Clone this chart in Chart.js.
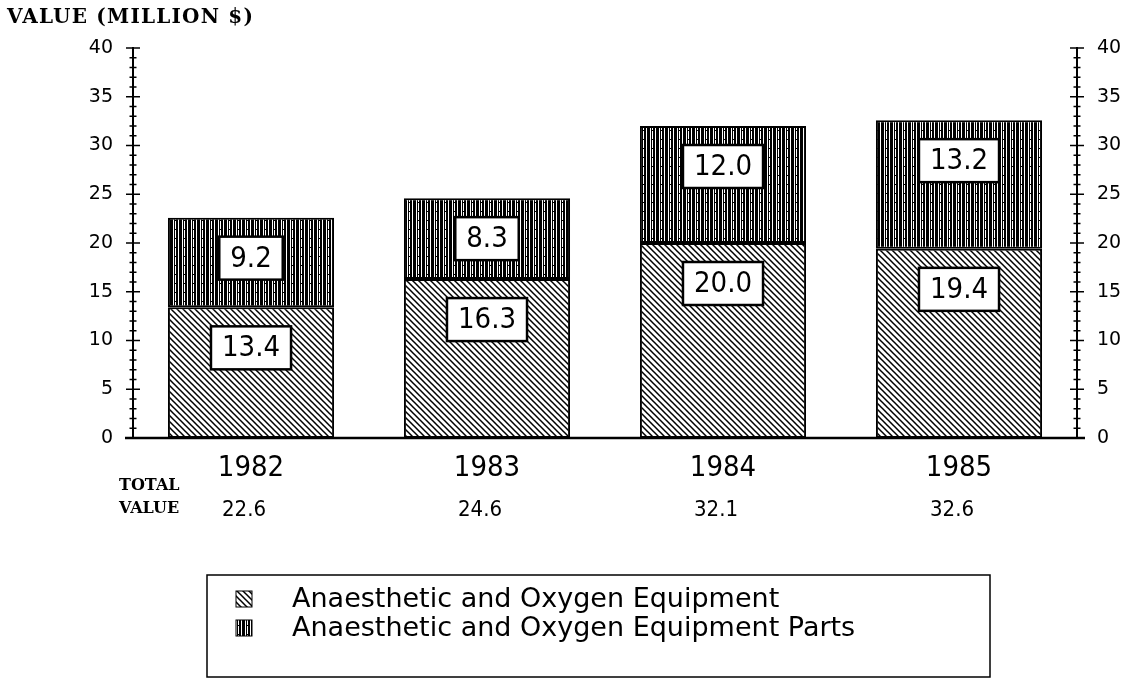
<!DOCTYPE html>
<html>
<head>
<meta charset="utf-8">
<script src="https://cdn.jsdelivr.net/npm/chart.js@4.4.1/dist/chart.umd.min.js"></script>
<style>
  html, body { margin: 0; padding: 0; background: #fff; }
  #wrap { width: 1126px; height: 681px; }
</style>
</head>
<body>
<div id="wrap"><canvas id="chart" width="1126" height="681"></canvas></div>
<script>
// data
const years = ['1982', '1983', '1984', '1985'];
const equipment = [13.4, 16.3, 20.0, 19.4];
const equipmentParts = [9.2, 8.3, 12.0, 13.2];
const totalValues = ['22.6', '24.6', '32.1', '32.6'];
const seriesNames = ['Anaesthetic and Oxygen Equipment', 'Anaesthetic and Oxygen Equipment Parts'];
const axisTitle = 'VALUE (MILLION $)';
const totalLabel = ['TOTAL', 'VALUE'];

const plotFont = "'Liberation Sans Narrow', 'DejaVu Sans Condensed', 'DejaVu Sans', sans-serif";
const typeFont = "'DejaVu Serif', 'Liberation Serif', serif";

function hatchPattern() {
    const c = document.createElement('canvas');
    c.width = 6; c.height = 6;
    const g = c.getContext('2d');
    g.fillStyle = '#fff';
    g.fillRect(0, 0, 6, 6);
    g.strokeStyle = '#000';
    g.lineWidth = 1.5;
    g.beginPath();
    g.moveTo(-1, -1); g.lineTo(7, 7);
    g.moveTo(-1, 5); g.lineTo(1, 7);
    g.moveTo(5, -1); g.lineTo(7, 1);
    g.stroke();
    return g.createPattern(c, 'repeat');
}

function stripePattern() {
    const c = document.createElement('canvas');
    c.width = 9; c.height = 9;
    const g = c.getContext('2d');
    g.fillStyle = '#fff';
    g.fillRect(0, 0, 9, 9);
    g.fillStyle = '#000';
    g.fillRect(0, 0, 2, 9);
    g.fillRect(3, 0, 1, 9);
    g.fillRect(5, 0, 2, 9);
    g.fillRect(8, 0, 1, 9);
    g.fillRect(4, 4, 1, 1);
    return g.createPattern(c, 'repeat');
}

const ctx = document.getElementById('chart').getContext('2d');
const hatch = hatchPattern();
const stripes = stripePattern();

function fitText(c, text, x, y, width) {
    const n = text.length - 1;
    const extra = (width - c.measureText(text).width) / n;
    c.letterSpacing = Math.max(0, extra).toFixed(2) + 'px';
    c.fillText(text, x, y);
    c.letterSpacing = '0px';
}

const decorations = {
    id: 'decorations',
    afterDatasetsDraw(chart) {
        const c = chart.ctx;
        c.save();
        c.font = '29px ' + plotFont;
        c.textAlign = 'center';
        c.textBaseline = 'middle';
        chart.data.datasets.forEach((ds, di) => {
            chart.getDatasetMeta(di).data.forEach((bar, i) => {
                const text = ds.data[i].toFixed(1);
                const w = c.measureText(text).width + 22;
                const h = 43;
                const top = bar.y + 19;
                c.fillStyle = '#fff';
                c.fillRect(bar.x - w / 2, top, w, h);
                c.lineWidth = 2.5;
                c.strokeStyle = '#000';
                c.strokeRect(bar.x - w / 2, top, w, h);
                c.fillStyle = '#000';
                c.fillText(text, bar.x, top + h / 2 + 1);
            });
        });
        c.restore();
    },
    afterDraw(chart) {
        const c = chart.ctx;
        const area = chart.chartArea;
        const x = chart.scales.x;
        c.save();
        c.strokeStyle = '#000';
        c.fillStyle = '#000';

        // minor and major ticks crossing both value axes
        ['y', 'y2'].forEach(id => {
            const s = chart.scales[id];
            const ax = id === 'y' ? area.left : area.right;
            c.lineWidth = 1.5;
            for (let v = s.min; v <= s.max; v++) {
                const py = s.getPixelForValue(v);
                const half = v % 5 === 0 ? 7 : 3.5;
                c.beginPath();
                c.moveTo(ax - half, py);
                c.lineTo(ax + half, py);
                c.stroke();
            }
        });

        // base line
        const y0 = chart.scales.y.getPixelForValue(0);
        c.lineWidth = 2.5;
        c.beginPath();
        c.moveTo(area.left - 8, y0);
        c.lineTo(area.right + 8, y0);
        c.stroke();

        // axis title
        c.font = 'bold 20px ' + typeFont;
        c.textAlign = 'left';
        c.textBaseline = 'middle';
        fitText(c, axisTitle, 7, 18, 246);

        // total row
        c.font = 'bold 16px ' + typeFont;
        fitText(c, totalLabel[0], 119, 486, 58);
        fitText(c, totalLabel[1], 119, 509, 58);
        c.font = '22px ' + plotFont;
        c.textAlign = 'center';
        totalValues.forEach((t, i) => {
            c.fillText(t, x.getPixelForValue(i) - 7, 510);
        });

        // legend box
        c.lineWidth = 1.5;
        c.strokeRect(207, 575, 783, 102);
        const swatches = [hatch, stripes];
        c.font = "27px 'DejaVu Sans', sans-serif";
        c.textAlign = 'left';
        seriesNames.forEach((name, i) => {
            const sy = 591 + i * 29;
            c.fillStyle = swatches[i];
            c.fillRect(236, sy, 16, 16);
            c.lineWidth = 1;
            c.strokeRect(236, sy, 16, 16);
            c.fillStyle = '#000';
            c.fillText(name, 292, sy + 9);
        });
        c.restore();
    }
};

const config = {
    type: 'bar',
    data: {
        labels: years,
        datasets: [
            {
                label: seriesNames[0],
                data: equipment,
                backgroundColor: hatch,
                borderColor: '#000',
                borderWidth: 2,
                borderSkipped: false,
                yAxisID: 'y'
            },
            {
                label: seriesNames[1],
                data: equipmentParts,
                backgroundColor: stripes,
                borderColor: '#000',
                borderWidth: 2,
                borderSkipped: false,
                yAxisID: 'y'
            }
        ]
    },
    options: {
        responsive: false,
        animation: false,
        layout: { padding: { top: 48, left: 0, right: 0, bottom: 0 } },
        categoryPercentage: 1.0,
        barPercentage: 0.704,
        plugins: {
            legend: { display: false },
            tooltip: { enabled: false }
        },
        scales: {
            x: {
                stacked: true,
                grid: { display: false, drawTicks: false, tickLength: 0 },
                border: { display: false },
                ticks: { color: '#000', padding: 13, font: { family: plotFont, size: 29 } },
                afterFit: s => { s.height = 243; }
            },
            y: {
                stacked: true,
                position: 'left',
                min: 0,
                max: 40,
                grid: { display: false, drawTicks: false },
                border: { display: true, color: '#000', width: 2 },
                ticks: { stepSize: 5, color: '#000', padding: 20, font: { family: 'DejaVu Sans', size: 19 } },
                afterFit: s => { s.width = 133; }
            },
            y2: {
                position: 'right',
                min: 0,
                max: 40,
                grid: { display: false, drawTicks: false },
                border: { display: true, color: '#000', width: 2 },
                ticks: { stepSize: 5, color: '#000', padding: 20, font: { family: 'DejaVu Sans', size: 19 } },
                afterFit: s => { s.width = 49; }
            }
        }
    },
    plugins: [decorations]
};

new Chart(ctx, config);
</script>
</body>
</html>
